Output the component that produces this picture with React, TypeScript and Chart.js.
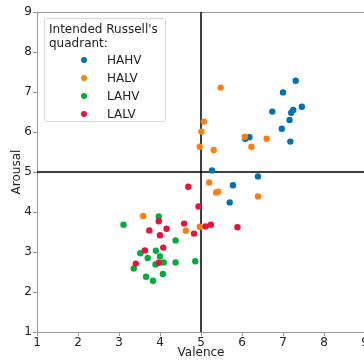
import React, { useEffect, useRef } from "react";
import { Chart, registerables } from "chart.js";
Chart.register(...registerables);

const quadrantLabels = ["HAHV", "HALV", "LAHV", "LALV"];
const quadrantColors = ["#0072b2", "#ff7f0e", "#00ac3a", "#e8123c"];

const hahvValence = [7.31, 7.0, 7.46, 7.25, 7.2, 6.74, 7.16, 6.97, 7.18, 6.08, 6.18, 5.27, 6.39, 5.78, 5.7];
const hahvArousal = [7.28, 6.99, 6.63, 6.55, 6.48, 6.51, 6.3, 6.08, 5.76, 5.83, 5.87, 5.04, 4.89, 4.67, 4.24];
const halvValence = [5.48, 5.07, 5.01, 6.07, 6.6, 4.97, 6.23, 5.31, 5.2, 5.37, 5.42, 6.39, 3.59, 4.97, 4.63];
const halvArousal = [7.11, 6.26, 6.01, 5.88, 5.83, 5.63, 5.63, 5.55, 4.74, 4.49, 4.51, 4.39, 3.9, 3.63, 3.53];
const lahvValence = [3.97, 3.11, 4.38, 3.52, 3.9, 3.7, 4.0, 4.09, 3.89, 4.38, 4.86, 3.36, 3.66, 4.07, 3.83];
const lahvArousal = [3.89, 3.68, 3.29, 2.97, 3.03, 2.85, 2.89, 2.74, 2.69, 2.74, 2.77, 2.59, 2.38, 2.45, 2.28];
const lalvValence = [4.69, 4.94, 3.97, 4.59, 5.11, 5.24, 5.89, 3.74, 4.16, 4.0, 4.83, 4.08, 3.63, 3.41, 3.97];
const lalvArousal = [4.63, 4.14, 3.77, 3.71, 3.64, 3.68, 3.62, 3.54, 3.58, 3.42, 3.46, 3.11, 3.04, 2.71, 2.73];

const axisMin = 1;
const axisMax = 9;
const neutral = 5;

const valences = [hahvValence, halvValence, lahvValence, lalvValence];
const arousals = [hahvArousal, halvArousal, lahvArousal, lalvArousal];

const FONT = "'DejaVu Sans', sans-serif";

export default function App() {
  const ref = useRef<HTMLCanvasElement | null>(null);

  useEffect(() => {
    const canvas = ref.current;
    if (!canvas) return;
    const framePlugin = {
      id: "frameAndQuadrants",
      beforeDatasetsDraw(chart: any) {
        const { ctx, chartArea, scales } = chart;
        ctx.save();
        ctx.strokeStyle = "#999999";
        ctx.lineWidth = 1;
        ctx.beginPath();
        ctx.moveTo(chartArea.left, chartArea.top + 0.5);
        ctx.lineTo(chartArea.right, chartArea.top + 0.5);
        ctx.moveTo(chartArea.right - 0.5, chartArea.top);
        ctx.lineTo(chartArea.right - 0.5, chartArea.bottom);
        ctx.stroke();
        const px = scales.x.getPixelForValue(neutral);
        const py = scales.y.getPixelForValue(neutral);
        ctx.strokeStyle = "#000000";
        ctx.lineWidth = 1.5;
        ctx.beginPath();
        ctx.moveTo(px, chartArea.top);
        ctx.lineTo(px, chartArea.bottom);
        ctx.moveTo(chartArea.left, py);
        ctx.lineTo(chartArea.right, py);
        ctx.stroke();
        ctx.restore();
      },
    };
    const chart = new Chart(canvas, {
      type: "scatter",
      data: {
        datasets: quadrantLabels.map((label, i) => ({
          label,
          data: valences[i].map((v, j) => ({ x: v, y: arousals[i][j] })),
          backgroundColor: quadrantColors[i],
          borderColor: quadrantColors[i],
          borderWidth: 0,
          pointRadius: 3.2,
          order: quadrantLabels.length - 1 - i,
        })),
      },
      options: {
        animation: false,
        responsive: false,
        devicePixelRatio: 1,
        layout: { padding: { top: 12, right: 15, left: 0, bottom: 0 } },
        plugins: { legend: { display: false }, tooltip: { enabled: false } },
        scales: {
          x: {
            type: "linear",
            min: axisMin,
            max: axisMax,
            afterFit: (s: any) => {
              s.height = 28;
            },
            ticks: { stepSize: 1, color: "#222", font: { family: FONT, size: 12 }, padding: 0, maxRotation: 0 },
            grid: { drawOnChartArea: false, drawTicks: true, tickLength: 4, color: "#999999" },
            border: { display: true, color: "#999999", width: 1 },
            title: { display: true, text: "Valence", color: "#222", font: { family: FONT, size: 12 }, padding: { top: 0, bottom: 0 } },
          },
          y: {
            type: "linear",
            min: axisMin,
            max: axisMax,
            afterFit: (s: any) => {
              s.width = 37;
            },
            ticks: { stepSize: 1, color: "#222", font: { family: FONT, size: 12 }, padding: 1 },
            grid: { drawOnChartArea: false, drawTicks: true, tickLength: 4, color: "#999999" },
            border: { display: true, color: "#999999", width: 1 },
            title: { display: true, text: "Arousal", color: "#222", font: { family: FONT, size: 12 }, padding: { top: 10, bottom: 0 } },
          },
        },
      },
      plugins: [framePlugin],
    });
    return () => chart.destroy();
  }, []);

  return (
    <div style={{ position: "fixed", left: 0, top: 0, width: 364, height: 360, overflow: "hidden", background: "#fff" }}>
      <canvas ref={ref} width={380} height={360} style={{ display: "block", width: 380, height: 360 }} />
      <div
        style={{
          position: "absolute",
          left: 44,
          top: 18,
          width: 122,
          height: 104,
          boxSizing: "border-box",
          border: "1px solid #d9d9d9",
          borderRadius: 3,
          background: "rgba(255,255,255,0.8)",
          fontFamily: FONT,
          fontSize: 12,
          color: "#222",
        }}
      >
        <div style={{ position: "absolute", left: 4, top: 3, lineHeight: "14px", whiteSpace: "nowrap" }}>
          Intended Russell's
          <br />
          quadrant:
        </div>
        {quadrantLabels.map((label, i) => (
          <div key={label} style={{ position: "absolute", left: 0, top: 33 + i * 18, height: 16, width: 120 }}>
            <span
              style={{
                position: "absolute",
                left: 36,
                top: 5,
                width: 6,
                height: 6,
                borderRadius: 3,
                background: quadrantColors[i],
              }}
            />
            <span style={{ position: "absolute", left: 62, top: 0, lineHeight: "16px" }}>{label}</span>
          </div>
        ))}
      </div>
    </div>
  );
}
